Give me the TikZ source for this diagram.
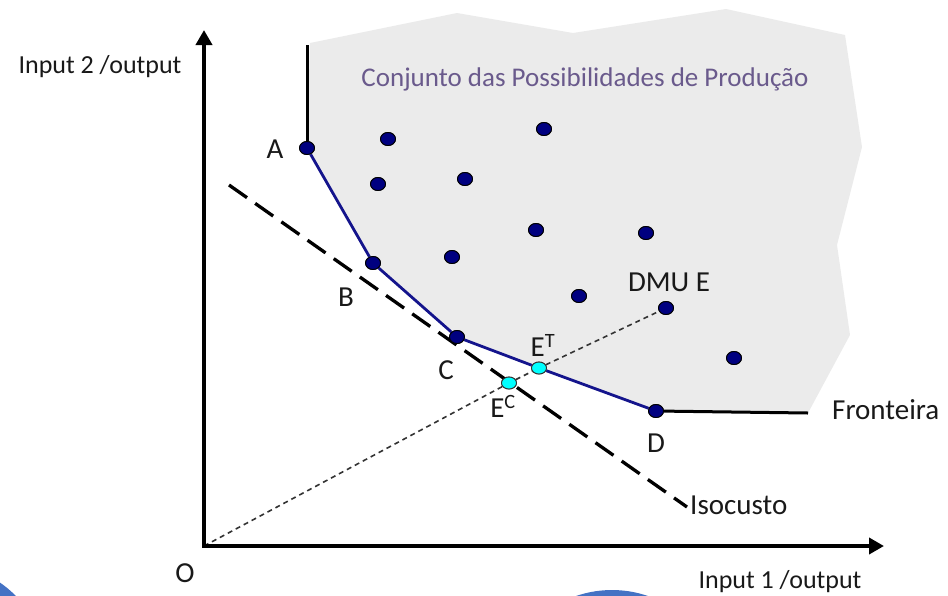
\documentclass[tikz,border=0pt]{standalone}
\usepackage{fontspec}
\setmainfont{Carlito}
\usetikzlibrary{arrows.meta,shapes.geometric}
\definecolor{regiongray}{RGB}{235,235,235}
\definecolor{navydot}{RGB}{0,0,128}
\definecolor{frontblue}{RGB}{20,20,140}
\definecolor{cyandot}{RGB}{0,255,255}
\definecolor{titlepurple}{RGB}{106,90,140}
\definecolor{slideblue}{RGB}{68,114,196}
\definecolor{labelgray}{RGB}{25,25,25}
\tikzset{
  dmu/.style={ellipse,draw=black,line width=0.9pt,fill=navydot,minimum width=15pt,minimum height=13pt,inner sep=0pt},
  proj/.style={ellipse,draw=black!80,line width=0.9pt,fill=cyandot,minimum width=15pt,minimum height=12pt,inner sep=0pt},
  lbl/.style={text=labelgray,font=\fontsize{29}{32}\selectfont,inner sep=0pt},
  axlbl/.style={text=labelgray,font=\fontsize{26}{30}\selectfont,inner sep=0pt},
  axisline/.style={line width=4pt,-{Triangle[length=15pt,width=16pt]}},
  frontline/.style={draw=frontblue,line width=2.8pt},
  blackline/.style={draw=black,line width=3pt},
  isoline/.style={draw=black,line width=3.3pt,dash pattern=on 22pt off 10pt},
  rayline/.style={draw=black!80,line width=1.6pt,dash pattern=on 5pt off 4pt}
}
\begin{document}
\begin{tikzpicture}[x=1pt,y=-1pt]
\useasboundingbox (0,0) rectangle (948,595);
% production possibility set
\fill[regiongray] (310,43) -- (457,13) -- (573,33) -- (726,9) -- (845,35) -- (862,147)
  -- (837,245) -- (850,335) -- (808,413) -- (656,411) -- (539,369) -- (457,337)
  -- (372,263) -- (307,148) -- cycle;
% partial blue shapes at bottom edge
\begin{scope}
\clip (0,0) rectangle (948,595);
\fill[slideblue] (-60,670) circle[radius=106];
\fill[slideblue] (612,700) circle[radius=110];
\end{scope}
% coordinates
\coordinate (O) at (204,546);
\coordinate (Ytip) at (204,30);
\coordinate (Xtip) at (884,546);
\coordinate (Atop) at (307,45);
\coordinate (Fend) at (808,413);
\coordinate (iso1) at (229,185);
\coordinate (iso2) at (687,507);
% dots
\node[dmu] (A) at (307,148) {};
\node[dmu] (p1) at (388,139) {};
\node[dmu] (p2) at (544,129) {};
\node[dmu] (p3) at (378,184) {};
\node[dmu] (p4) at (465,179) {};
\node[dmu] (B) at (373,263) {};
\node[dmu] (p5) at (452,257) {};
\node[dmu] (p6) at (536,230) {};
\node[dmu] (p7) at (646,233) {};
\node[dmu] (C) at (457,337) {};
\node[dmu] (p8) at (579,296) {};
\node[dmu] (E) at (666,308) {};
\node[dmu] (p9) at (734,358) {};
\node[dmu] (D) at (656,411) {};
\node[proj] (ET) at (539,368) {};
\node[proj] (EC) at (509,383) {};
% lines
\draw[isoline] (iso1) -- (iso2);
\draw[rayline] (O) -- (EC) -- (ET) -- (E);
\draw[frontline] (A) -- (B) -- (C) -- (ET) -- (D);
\draw[blackline] (A) -- (Atop);
\draw[blackline] (D) -- (Fend);
\draw[axisline] ([yshift=2pt]O) -- (Ytip);
\draw[axisline] ([xshift=-2pt]O) -- (Xtip);
% redraw dots on top of lines
\foreach \xy in {(307,148),(388,139),(544,129),(378,184),(465,179),(373,263),(452,257),(536,230),(646,233),(457,337),(579,296),(666,308),(734,358),(656,411)}
  \node[dmu] at \xy {};
\node[proj] at (539,368) {};
\node[proj] at (509,383) {};
% labels
\node[font=\fontsize{27}{30}\selectfont,text=titlepurple,inner sep=0pt] (title) at (585,79) {Conjunto das Possibilidades de Produção};
\node[axlbl] (ylab) at (100,67) {Input 2 /output};
\node[axlbl] (xlab) at (780,582) {Input 1 /output};
\node[lbl] (Olab) at (185,573) {O};
\node[lbl] (Alab) at (275,149) {A};
\node[lbl] (Blab) at (346,297) {B};
\node[lbl] (Clab) at (446,370) {C};
\node[lbl] (Dlab) at (656,443) {D};
\node[lbl] (Elab) at (669,282) {DMU E};
\node[lbl] (ETlab) at (543,345) {E\textsuperscript{T}};
\node[lbl] (EClab) at (503,406) {E\textsuperscript{C}};
\node[lbl,anchor=west] (Frlab) at (832,410) {Fronteira};
\node[lbl,anchor=west] (Isolab) at (690,505) {Isocusto};
\end{tikzpicture}
\end{document}
